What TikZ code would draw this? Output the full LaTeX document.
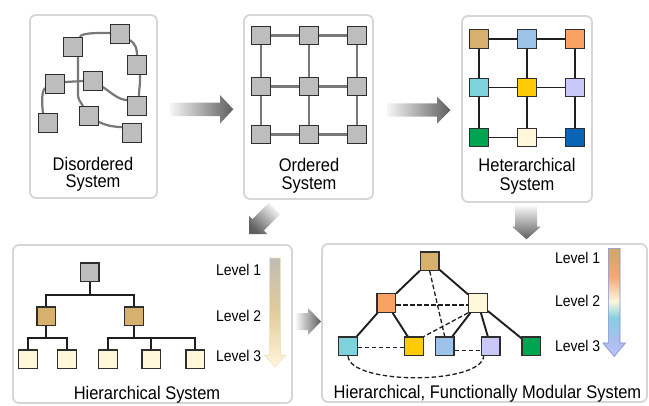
\documentclass[tikz,border=0pt]{standalone}
\usepackage{fontspec}
\setmainfont{Liberation Sans}
\newfontfamily\lf[FakeStretch=0.9]{Liberation Sans}
\usetikzlibrary{calc}
\pgfdeclarelayer{back}
\pgfsetlayers{back,main}

\definecolor{sqgray}{HTML}{BDBDBD}
\definecolor{sqedge}{HTML}{2E2E2E}
\definecolor{tanc}{HTML}{D6B06C}
\definecolor{lblue}{HTML}{9EC3E8}
\definecolor{orng}{HTML}{F9A263}
\definecolor{cyanc}{HTML}{7DD2DC}
\definecolor{gold}{HTML}{FFCB05}
\definecolor{lav}{HTML}{C9C8F8}
\definecolor{grn}{HTML}{00A551}
\definecolor{cream}{HTML}{FFF7DA}
\definecolor{blu}{HTML}{0A64B6}
\definecolor{panelc}{HTML}{D6D6D6}
\definecolor{linegray}{HTML}{787878}
\definecolor{arrlight}{HTML}{F6F6F6}
\definecolor{arrdark}{HTML}{5E5E5E}
% level arrow colours
\definecolor{hlt}{HTML}{BFBCB5}
\definecolor{hlm}{HTML}{E3CC9C}
\definecolor{hlb}{HTML}{FFF6DC}
\definecolor{mlt}{HTML}{D3A868}
\definecolor{mlo}{HTML}{F4A874}
\definecolor{mlc}{HTML}{FDF6E0}
\definecolor{mly}{HTML}{86D0DF}
\definecolor{mlb}{HTML}{A9BFEE}
\definecolor{mll}{HTML}{BFC0F6}
\definecolor{mledge}{HTML}{7F8FD0}
\definecolor{hledge}{HTML}{EFE4C6}

\pgfdeclareverticalshading{hierlevel}{100bp}{color(0bp)=(hlb); color(25bp)=(hlb); color(50bp)=(hlm); color(75bp)=(hlt); color(100bp)=(hlt)}
\pgfdeclareverticalshading{modlevel}{100bp}{color(0bp)=(mll); color(25bp)=(mll); color(33bp)=(mlb); color(43bp)=(mly); color(50.5bp)=(mlc); color(62bp)=(mlo); color(72.5bp)=(mlt); color(100bp)=(mlt)}

\begin{document}
\begin{tikzpicture}[x=1pt,y=-1pt,
  sq/.style={draw=sqedge, line width=1.2pt, minimum size=18.5pt, inner sep=0pt, fill=#1},
  sq/.default=sqgray,
  panel/.style={draw=panelc, line width=1.8pt, rounded corners=6pt, fill=white},
  gline/.style={draw=linegray, line width=2.2pt},
  bline/.style={draw=black!88, line width=1.9pt},
  dline/.style={draw=black!88, line width=1.3pt, dash pattern=on 4.5pt off 2.5pt},
  title/.style={font=\lf\fontsize{18.3}{18.3}\selectfont, inner sep=0pt, anchor=base},
  lvl/.style={font=\lf\fontsize{15.5}{15.5}\selectfont, inner sep=0pt, anchor=base west},
  harrow/.style={left color=arrlight, right color=arrdark, draw=none},
  varrow/.style={top color=arrlight, bottom color=arrdark, draw=none},
]
\useasboundingbox (0,0) rectangle (649,405);

% ---------- panels ----------
\begin{pgfonlayer}{back}
\draw[panel] (30,15) rectangle (157,198);
\draw[panel] (244,15) rectangle (373,199);
\draw[panel] (462,16) rectangle (592,202);
\draw[panel] (13,245) rectangle (292,403);
\draw[panel] (322,244) rectangle (647,402);
\end{pgfonlayer}

% ---------- big grey arrows ----------
\shade[harrow] (170,102.7) -- (220,102.7) -- (220,95) -- (233.3,109.3) -- (220,123.6) -- (220,116) -- (170,116) -- cycle;
\shade[harrow] (387,103.3) -- (437,103.3) -- (437,96.5) -- (450.5,110) -- (437,123.5) -- (437,116.7) -- (387,116.7) -- cycle;
\shade[varrow] (515,206) -- (537,206) -- (537,226.7) -- (540.7,226.7) -- (526.5,239.3) -- (512.3,226.7) -- (515,226.7) -- cycle;
\shade[harrow] (296,313) -- (308,313) -- (308,308) -- (321,321.5) -- (308,335) -- (308,330) -- (296,330) -- cycle;
\shade[top color=arrlight, bottom color=arrdark, shading angle=-45, draw=none]
  (280.2,214.2) -- (263.9,230.5) -- (267.4,234.0) -- (249,234) -- (249.0,215.6) -- (252.5,219.1) -- (268.8,202.8) -- cycle;

% ---------- Disordered system ----------
\node[sq] (dA) at (73,47) {};
\node[sq] (dB) at (120,34) {};
\node[sq] (dC) at (137,65) {};
\node[sq] (dD) at (55,84) {};
\node[sq] (dE) at (93,81) {};
\node[sq] (dF) at (137,106) {};
\node[sq] (dG) at (48,123) {};
\node[sq] (dH) at (89,116) {};
\node[sq] (dI) at (132,133) {};
\begin{pgfonlayer}{back}
\draw[gline] ([xshift=7pt]dA.north) .. controls +(0,-5) and +(-6,0) .. ([yshift=1pt]dB.west);
\draw[gline] ([yshift=-6pt]dB.east) .. controls +(6,4) and +(0,-6) .. (dC.north);
\draw[gline] ([xshift=3pt]dC.south) .. controls +(0.5,10) and +(0,-8) .. ([xshift=2pt]dF.north);
\draw[gline] ([yshift=-6pt]dE.east) .. controls +(10,7) and +(-8,0) .. ([yshift=6pt]dF.west);
\draw[gline] ([yshift=2pt]dD.east) -- (dE.west);
\draw[gline] ([xshift=5pt]dA.south) -- ++(0,38) .. controls +(0,5) and +(-2,-4) .. ([xshift=-6pt]dH.north);
\draw[gline] ([yshift=-4pt]dD.west) .. controls +(-4,3) and +(-1,-8) .. ([xshift=-5pt]dG.north);
\draw[gline] ([yshift=-6pt]dH.east) .. controls +(9,4) and +(-8,0) .. ([yshift=6pt]dI.west);
\end{pgfonlayer}
\node[title] (dt1) at (93,170) {Disordered};
\node[title] (dt2) at (93,187.7) {System};

% ---------- Ordered system ----------
\foreach \i/\y in {1/35.5,2/86.5,3/134.5}{
  \foreach \j/\x in {1/261,2/309,3/357}{
    \node[sq] (o\i\j) at (\x,\y) {};
  }
}
\begin{pgfonlayer}{back}
\foreach \i in {1,2,3}{
  \draw[gline] (o\i1) -- (o\i2) -- (o\i3);
  \draw[gline] (o1\i) -- (o2\i) -- (o3\i);
}
\end{pgfonlayer}
\node[title] (ot1) at (309,171.5) {Ordered};
\node[title] (ot2) at (309,189) {System};

% ---------- Heterarchical system ----------
\node[sq=tanc]  (h11) at (479,39) {};
\node[sq=lblue] (h12) at (527,39) {};
\node[sq=orng]  (h13) at (575,39) {};
\node[sq=cyanc] (h21) at (479,87.5) {};
\node[sq=gold]  (h22) at (527,87.5) {};
\node[sq=lav]   (h23) at (575,87.5) {};
\node[sq=grn]   (h31) at (479,137.5) {};
\node[sq=cream] (h32) at (527,137.5) {};
\node[sq=blu]   (h33) at (575,137.5) {};
\begin{pgfonlayer}{back}
\foreach \i in {1,2,3}{
  \draw[bline] (h\i1) -- (h\i2) -- (h\i3);
  \draw[bline] (h1\i) -- (h2\i) -- (h3\i);
}
\end{pgfonlayer}
\node[title] (ht1) at (527,171.5) {Heterarchical};
\node[title] (ht2) at (527,190) {System};

% ---------- Hierarchical system ----------
\node[sq] (r0) at (89.7,272.3) {};
\node[sq=tanc] (r1) at (46.3,316.3) {};
\node[sq=tanc] (r2) at (134,316.3) {};
\node[sq=cream] (r11) at (28,359.2) {};
\node[sq=cream] (r12) at (67,359.2) {};
\node[sq=cream] (r21) at (108,359.2) {};
\node[sq=cream] (r22) at (151.3,359.2) {};
\node[sq=cream] (r23) at (195.3,359.2) {};
\begin{pgfonlayer}{back}
\draw[bline] (r0.south) -- ++(0,13) -| (r1.north);
\draw[bline] (r0.south) -- ++(0,13) -| (r2.north);
\draw[bline] (r1.south) -- ++(0,12) -| (r11.north);
\draw[bline] (r1.south) -- ++(0,12) -| (r12.north);
\draw[bline] (r2.south) -- ++(0,12) -| (r21.north);
\draw[bline] (r2.south) -- ++(0,12) -| (r22.north);
\draw[bline] (r2.south) -- ++(0,12) -| (r23.north);
\end{pgfonlayer}
\shade[shading=hierlevel, draw=hledge, line width=0.6pt]
  (269.5,258) -- (280.5,258) -- (280.5,355) -- (285.8,355) -- (275,367) -- (264.2,355) -- (269.5,355) -- cycle;
\node[lvl] (hl1) at (216,275.7) {Level 1};
\node[lvl] (hl2) at (216,321) {Level 2};
\node[lvl] (hl3) at (216,361.7) {Level 3};
\node[title] (hst) at (147,399) {Hierarchical System};

% ---------- Hierarchical, functionally modular system ----------
\node[sq=tanc]  (m1) at (429.7,261.2) {};
\node[sq=orng]  (m2) at (386.3,303) {};
\node[sq=cream] (m3) at (478,303) {};
\node[sq=cyanc] (m4) at (348,346.3) {};
\node[sq=gold]  (m5) at (414,346.3) {};
\node[sq=lblue] (m6) at (444.7,346.3) {};
\node[sq=lav]   (m7) at (490.7,346.3) {};
\node[sq=grn]   (m8) at (531.3,346.3) {};
\begin{pgfonlayer}{back}
\draw[bline] (m1) -- (m2);
\draw[bline] (m1) -- (m3);
\draw[bline] (m2) -- (m4);
\draw[bline] (m2) -- (m5);
\draw[bline] (m3) -- (m6);
\draw[bline] (m3) -- (m7);
\draw[bline] (m3) -- (m8);
\draw[dline] (m1.south) -- (m6.north);
\draw[dline] ([yshift=-2pt]m2.east) -- ([yshift=-2pt]m3.west);
\draw[dline] (m3.south west) -- (m5.north east);
\draw[dline] ([yshift=-1pt]m4.east) -- ([yshift=-1pt]m5.west);
\draw[dline] ([yshift=-4.5pt]m6.east) -- ([yshift=-4.5pt]m7.west);
\draw[dline] (m4.south) .. controls (350,385) and (481,385) .. ([xshift=-7pt]m7.south);
\end{pgfonlayer}
\shade[shading=modlevel, draw=mledge, line width=0.6pt]
  (608.3,248.3) -- (620,248.3) -- (620,343) -- (625.5,343) -- (614.2,356.5) -- (602.9,343) -- (608.3,343) -- cycle;
\node[lvl] (ml1) at (555,263.3) {Level 1};
\node[lvl] (ml2) at (555,306.7) {Level 2};
\node[lvl] (ml3) at (555,351.7) {Level 3};
\node[title] (mst) at (487.5,398.5) {Hierarchical, Functionally Modular System};
\end{tikzpicture}
\end{document}
